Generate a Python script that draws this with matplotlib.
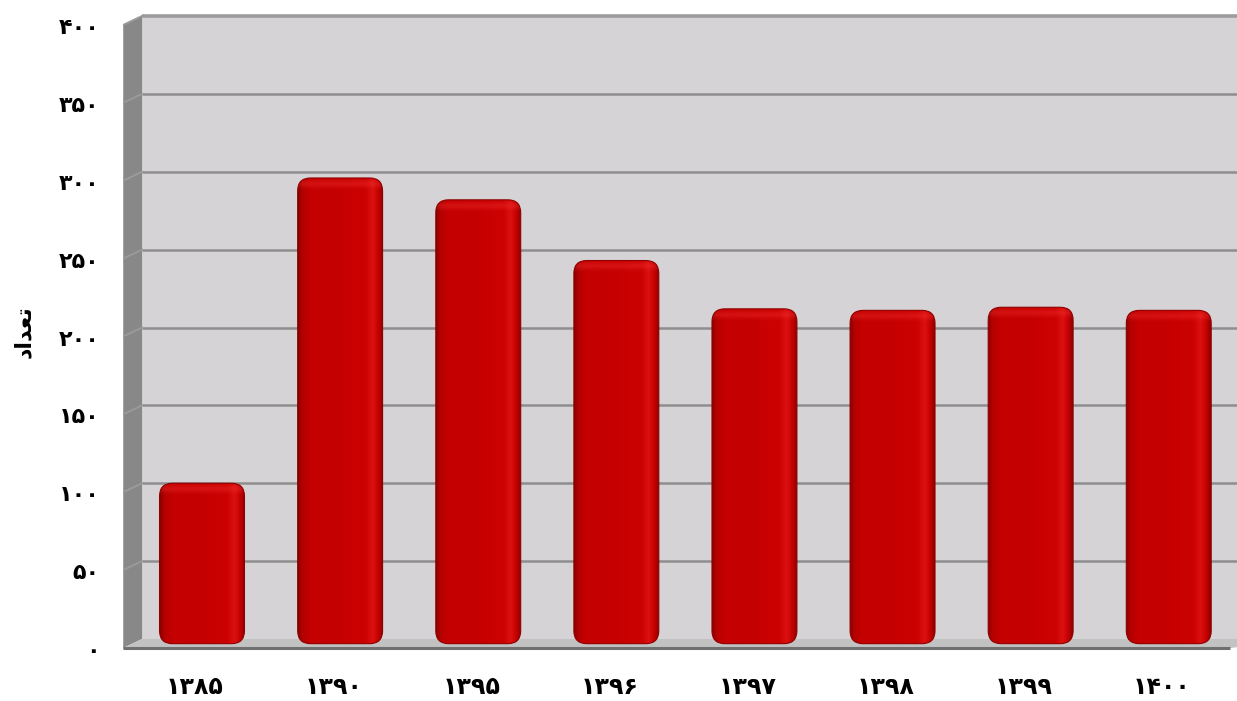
import matplotlib
matplotlib.use("Agg")
import matplotlib.pyplot as plt
import numpy as np
from matplotlib.patches import FancyBboxPatch, Polygon, Rectangle
from matplotlib.transforms import ScaledTranslation
from matplotlib.colors import LinearSegmentedColormap

# ---- data ----
categories = ["۱۳۸۵", "۱۳۹۰", "۱۳۹۵", "۱۳۹۶", "۱۳۹۷", "۱۳۹۸", "۱۳۹۹", "۱۴۰۰"]
values = [100, 296, 282, 243, 212, 211, 213, 211]
y_ticks = [0, 50, 100, 150, 200, 250, 300, 350, 400]
y_tick_labels = ["۰", "۵۰", "۱۰۰", "۱۵۰", "۲۰۰", "۲۵۰", "۳۰۰", "۳۵۰", "۴۰۰"]
# "تعداد" written in Arabic presentation forms (visual order) since matplotlib does no shaping
y_label = "\uFEA9\uFE8D\uFEAA\uFECC\uFE97"

plt.rcParams['font.family'] = ['DejaVu Sans']

W, H = 1237, 701
fig = plt.figure(figsize=(W / 100, H / 100), dpi=100)

# axes geometry (pixels)
px_left, px_right = 123, 1237
x_left, x_right = -0.572, 7.494
y_lo, y_hi = -8, 402
ppu_y = 1.5575
ax_h = (y_hi - y_lo) * ppu_y
ax_bottom_px = 639 + (-y_lo) * ppu_y
ax = fig.add_axes([px_left / W, (H - ax_bottom_px) / H, (px_right - px_left) / W, ax_h / H])
ax.set_xlim(x_left, x_right)
ax.set_ylim(y_lo, y_hi)
for s in ax.spines.values():
    s.set_visible(False)

back_x = -0.434
depth_y = 5.8
xmax = x_right + 0.5

# back wall
ax.add_patch(Rectangle((back_x, 0), xmax - back_x, 400, facecolor="#d5d3d5",
                       edgecolor="none", zorder=0))
# side wall
ax.add_patch(Polygon([(x_left, -depth_y), (back_x, 0), (back_x, 400), (x_left, 400 - depth_y)],
                     closed=True, facecolor="#888888", edgecolor="none", zorder=0.5))
ax.plot([x_left, x_left], [-depth_y, 400 - depth_y], color="#a8a8a8", lw=1.2, zorder=0.6)
# floor
ax.add_patch(Polygon([(x_left, -depth_y), (back_x, 0), (xmax, 0), (7.444, -depth_y)],
                     closed=True, facecolor="#c2c2c2", edgecolor="none", zorder=0.5))
ax.plot([x_left, 7.444], [-depth_y, -depth_y], color="#707070", lw=2.2, zorder=0.7,
        solid_capstyle="butt")

# gridlines
for v in y_ticks[1:]:
    lw = 2.6 if v == 400 else 1.8
    col = "#9c9c9c" if v == 400 else "#8e8e8e"
    ax.plot([back_x, xmax], [v, v], color=col, lw=lw, zorder=0.8, solid_capstyle="butt")
    ax.plot([x_left, back_x], [v - depth_y, v], color="#9a9a9a", lw=1.4, zorder=0.8)

# bars
bar_w = 0.615
ppu_x = (px_right - px_left) / (x_right - x_left)
aspect = ppu_x / ppu_y
r_x = 13 / ppu_x

stops = [(0.0, "#880000"), (0.05, "#b40000"), (0.14, "#c40000"), (0.5, "#c60000"),
         (0.80, "#cc0202"), (0.88, "#dc1010"), (0.95, "#c40000"), (1.0, "#8a0000")]
cmap = LinearSegmentedColormap.from_list("bar", stops)
grad = np.linspace(0, 1, 256).reshape(1, -1)

top_hl = np.zeros((32, 2, 4))
top_hl[..., 0] = 1.0
top_hl[..., 1] = 0.25
top_hl[..., 2] = 0.25
a = np.linspace(0.0, 1.0, 32)
top_hl[..., 3] = (0.28 * np.exp(-((a - 0.25) / 0.18) ** 2))[:, None]

bottom = -3
for i, v in enumerate(values):
    x0 = i - bar_w / 2
    patch = FancyBboxPatch((x0, bottom), bar_w, v - bottom,
                           boxstyle=f"round,pad=0,rounding_size={r_x}",
                           mutation_aspect=aspect, facecolor="none",
                           edgecolor="#900000", lw=0.8, zorder=3)
    ax.add_patch(patch)
    im = ax.imshow(grad, cmap=cmap, extent=(x0, x0 + bar_w, bottom, v),
                   aspect="auto", zorder=2, interpolation="bilinear")
    im.set_clip_path(patch)
    im2 = ax.imshow(top_hl, extent=(x0, x0 + bar_w, v - 14, v), aspect="auto",
                    zorder=2.5, interpolation="bilinear")
    im2.set_clip_path(patch)

ax.set_xlim(x_left, x_right)
ax.set_ylim(y_lo, y_hi)

# ticks
ax.set_yticks(y_ticks)
ax.set_yticklabels(y_tick_labels, fontsize=16, fontweight="bold")
ax.tick_params(axis="y", length=0, pad=17)
for lab in ax.get_yticklabels():
    lab.set_transform(lab.get_transform() + ScaledTranslation(0, -0.10, fig.dpi_scale_trans))

ax.set_xticks(range(len(categories)))
ax.set_xticklabels(categories, fontsize=17, fontweight="bold")
ax.tick_params(axis="x", length=0, pad=17)
for lab in ax.get_xticklabels():
    lab.set_transform(lab.get_transform() + ScaledTranslation(-0.07, 0, fig.dpi_scale_trans))

fig.text(24 / W, 1 - 332 / H, y_label, rotation=90, ha="center", va="center",
         fontsize=16, fontweight="bold")

fig.savefig("out.png", dpi=100, facecolor="white")
